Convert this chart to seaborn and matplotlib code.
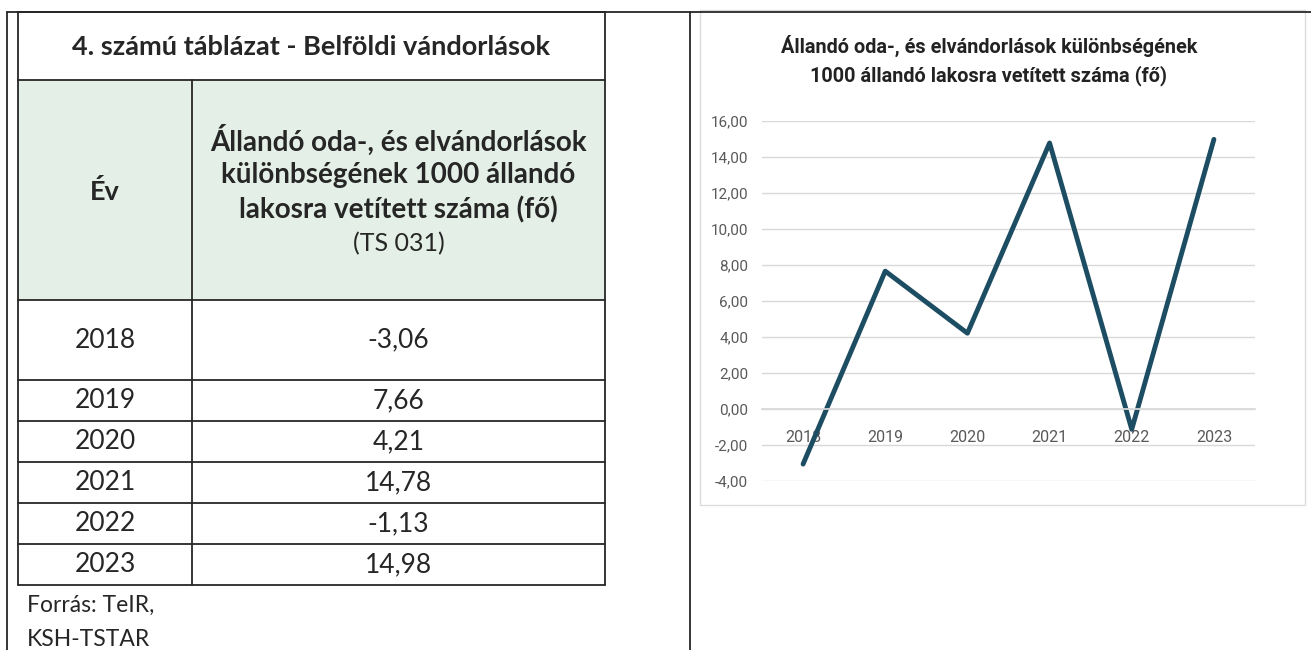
import matplotlib.pyplot as plt
import seaborn as sns
import pandas as pd
from matplotlib.patches import Rectangle

# data
years = ["2018", "2019", "2020", "2021", "2022", "2023"]
values = [-3.06, 7.66, 4.21, 14.78, -1.13, 14.98]
y_ticks = [-4, -2, 0, 2, 4, 6, 8, 10, 12, 14, 16]

table_title = "4. számú táblázat - Belföldi vándorlások"
col_year = "Év"
col_value = ["Állandó oda-, és elvándorlások",
             "különbségének 1000 állandó",
             "lakosra vetített száma (fő)"]
col_code = "(TS 031)"
chart_title = ["Állandó oda-, és elvándorlások különbségének",
               "1000 állandó lakosra vetített száma (fő)"]
source = ["Forrás: TeIR,", "KSH-TSTAR"]

df = pd.DataFrame({"year": years, "value": values})


def fmt(v):
    return f"{v:.2f}".replace(".", ",")


W, H = 1311, 650
sns.set_theme(style="white")
plt.rcParams["font.family"] = ["Lato", "DejaVu Sans"]
fig = plt.figure(figsize=(W / 100, H / 100), dpi=100)
fig.patch.set_facecolor("white")

# background axes in pixel coordinates for the table / page frame
bg = fig.add_axes([0, 0, 1, 1])
bg.set_xlim(0, W)
bg.set_ylim(H, 0)
bg.axis("off")

ink = "#262626"
bg.plot([7, W], [12, 12], color=ink, lw=1.3)
bg.plot([7, 7], [12, H], color=ink, lw=1.3)
bg.plot([690, 690], [12, H], color=ink, lw=1.3)

# table
tl, tr, tc = 18, 605, 192
row_edges = [12, 80, 300, 380, 421, 462, 503, 544, 585]
bg.add_patch(Rectangle((tl, 80), tr - tl, 220, facecolor="#e4f0e7",
                       edgecolor="none", zorder=0))
for y in row_edges:
    bg.plot([tl, tr], [y, y], color=ink, lw=1.3)
bg.plot([tl, tl], [12, 585], color=ink, lw=1.3)
bg.plot([tr, tr], [12, 585], color=ink, lw=1.3)
bg.plot([tc, tc], [80, 585], color=ink, lw=1.3)

txt = "#262626"
xm_year = (tl + tc) / 2
xm_val = (tc + tr) / 2
bg.text((tl + tr) / 2, 47, table_title, ha="center", va="center",
        fontsize=19.5, fontweight="bold", color=txt)
bg.text(xm_year, 192, col_year, ha="center", va="center",
        fontsize=19.5, fontweight="bold", color=txt)
for i, line in enumerate(col_value):
    bg.text(xm_val, 140 + 35 * i, line, ha="center", va="center",
            fontsize=20, fontweight="bold", color=txt)
bg.text(xm_val, 244, col_code, ha="center", va="center",
        fontsize=18, color=txt)

for i, (yr, v) in enumerate(zip(years, values)):
    yc = (row_edges[i + 2] + row_edges[i + 3]) / 2
    bg.text(xm_year, yc, yr, ha="center", va="center", fontsize=19, color=txt)
    bg.text(xm_val, yc, fmt(v), ha="center", va="center", fontsize=19, color=txt)

bg.text(27, 605, source[0], ha="left", va="center", fontsize=16.5, color=txt)
bg.text(27, 640, source[1], ha="left", va="center", fontsize=16.5, color=txt)

# chart frame
bg.add_patch(Rectangle((700, 10), 605, 495, facecolor="white",
                       edgecolor="#dcdcdc", lw=1, zorder=1))
narrow = ["Liberation Sans Narrow", "Roboto", "DejaVu Sans"]
for i, line in enumerate(chart_title):
    bg.text(989, 46 + 30 * i, line, ha="center", va="center", fontsize=14.3,
            fontweight="bold", color="#222222", family=narrow, zorder=2)

# line chart
ax = fig.add_axes([762 / W, 1 - 481 / H, (1255 - 762) / W, (481 - 121) / H])
ax.patch.set_alpha(0)
sns.lineplot(data=df, x="year", y="value", ax=ax, color="#1d4d62",
             lw=3.5, sort=False)
ax.set_ylim(-4, 16)
ax.set_xlim(-0.5, 5.5)
ax.set_yticks(y_ticks)
ax.set_yticklabels([fmt(t) for t in y_ticks])
ax.set_xlabel("")
ax.set_ylabel("")
ax.grid(axis="y", color="#d9d9d9", lw=1)
ax.grid(axis="x", visible=False)
ax.set_axisbelow(True)
for s in ["top", "right", "left"]:
    ax.spines[s].set_visible(False)
ax.spines["bottom"].set_position(("data", 0))
ax.spines["bottom"].set_color("#d9d9d9")
ax.tick_params(axis="x", length=0, pad=15, labelsize=11.5, labelcolor="#595959")
ax.tick_params(axis="y", length=0, pad=10, labelsize=11, labelcolor="#595959")
for lab in ax.get_xticklabels() + ax.get_yticklabels():
    lab.set_family(narrow)

fig.savefig("out.png", dpi=100)
